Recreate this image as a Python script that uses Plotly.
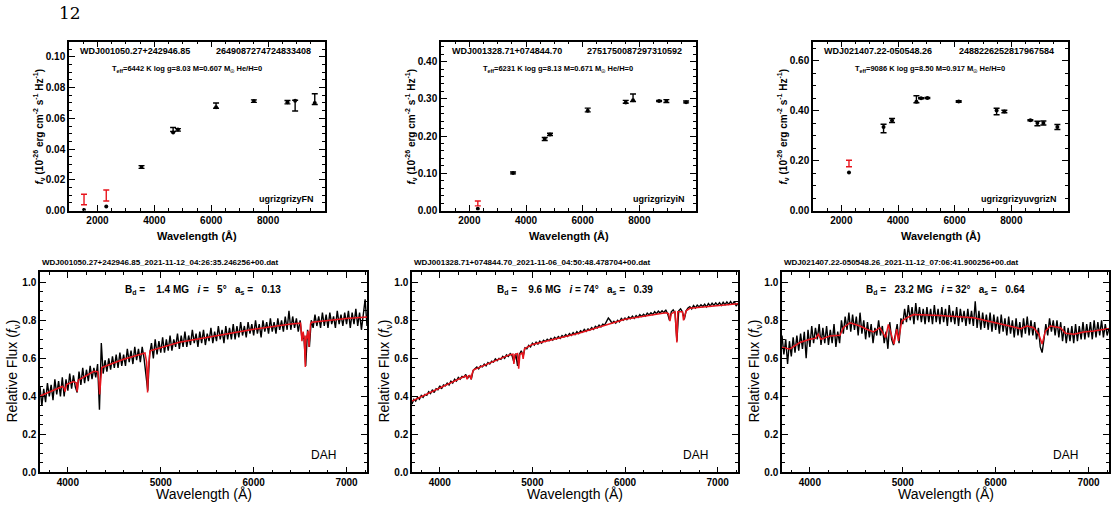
import plotly.graph_objects as go

W, H = 1116, 515
SANS = "Liberation Sans"

# ---------------- SED panels (top row) ----------------
SED1_NAME = "WDJ001050.27+242946.85"
SED1_GAIA = "2649087274724833408"
SED1_PARAMS = "T<sub>eff</sub>=6442 K log g=8.03 M=0.607 M<sub>☉</sub> He/H=0"
SED1_BANDS = "ugrizgrizyFN"
SED1_WAVE = [1528, 2310, 3550, 4660, 4830, 6170, 7500, 8680, 8950, 9640]
SED1_FLUX = [0.0072, 0.0098, 0.0283, 0.0527, 0.0525, 0.0683, 0.0712, 0.0705, 0.0683, 0.0725]
SED1_ERR = [0.0034, 0.0036, 0.0009, 0.0013, 0.0008, 0.0017, 0.0008, 0.0011, 0.0035, 0.0035]
SED1_MODEL = [0.0003, 0.0026, 0.0283, 0.0508, 0.0528, 0.0672, 0.0712, 0.0705, 0.0715, 0.0700]
SED1_NUV_COUNT = 2

SED2_NAME = "WDJ001328.71+074844.70"
SED2_GAIA = "2751750087297310592"
SED2_PARAMS = "T<sub>eff</sub>=6231 K log g=8.13 M=0.671 M<sub>☉</sub> He/H=0"
SED2_BANDS = "ugrizgrizyiN"
SED2_WAVE = [2300, 3543, 4661, 4848, 6179, 7520, 7778, 8697, 8954, 9650]
SED2_FLUX = [0.019, 0.101, 0.192, 0.2045, 0.270, 0.292, 0.303, 0.294, 0.294, 0.2917]
SED2_ERR = [0.0065, 0.0025, 0.004, 0.003, 0.005, 0.004, 0.010, 0.0015, 0.004, 0.0025]
SED2_MODEL = [0.005, 0.101, 0.193, 0.2045, 0.268, 0.290, 0.296, 0.294, 0.294, 0.291]
SED2_NUV_COUNT = 1

SED3_NAME = "WDJ021407.22-050548.26"
SED3_GAIA = "2488226252817967584"
SED3_PARAMS = "T<sub>eff</sub>=9086 K log g=8.50 M=0.917 M<sub>☉</sub> He/H=0"
SED3_BANDS = "ugrizgrizyuvgrizN"
SED3_WAVE = [2270, 3490, 3790, 4650, 4813, 5036, 6142, 7480, 7754, 8672, 8920, 9131, 9625]
SED3_FLUX = [0.188, 0.328, 0.360, 0.445, 0.449, 0.450, 0.436, 0.396, 0.396, 0.361, 0.348, 0.350, 0.334]
SED3_ERR = [0.013, 0.017, 0.008, 0.014, 0.002, 0.002, 0.003, 0.013, 0.005, 0.002, 0.009, 0.008, 0.010]
SED3_MODEL = [0.152, 0.334, 0.360, 0.435, 0.449, 0.450, 0.436, 0.400, 0.396, 0.361, 0.350, 0.350, 0.334]
SED3_NUV_COUNT = 1

SED_YMAX = [0.11, 0.454, 0.676]
SED_YDTICK = [0.02, 0.10, 0.20]
SED_YMINOR = [0.005, 0.02, 0.05]

# ---------------- Spectra (bottom row) ----------------
SPEC_WAVE = list(range(3700, 7221, 20))

SPEC1_FILE = "WDJ001050.27+242946.85_2021-11-12_04:26:35.246256+00.dat"
SPEC1_FIT = "B<sub>d</sub> =\u00a0\u00a0\u00a0 1.4 MG\u00a0\u00a0 <i>i</i> =\u00a0\u00a0 5°\u00a0\u00a0 a<sub>s</sub> =\u00a0\u00a0 0.13"
SPEC1_OBS = [
    .45, .35, .44, .37, .47, .40, .46, .38, .49, .41,
    .48, .40, .50, .40, .49, .43, .52, .44, .51, .45,
    .42, .53, .46, .55, .47, .54, .48, .56, .49, .55,
    .50, .57, .33, .68, .52, .59, .53, .60, .54, .61,
    .55, .62, .55, .63, .56, .62, .56, .65, .58, .64,
    .57, .66, .59, .65, .58, .66, .60, .51, .43, .62,
    .68, .60, .70, .62, .69, .63, .71, .63, .70, .64,
    .72, .64, .70, .66, .73, .65, .72, .66, .74, .66,
    .72, .67, .75, .68, .73, .66, .74, .68, .75, .67,
    .73, .69, .76, .68, .74, .69, .77, .70, .75, .68,
    .77, .70, .76, .70, .78, .70, .77, .71, .79, .72,
    .77, .71, .79, .73, .78, .72, .80, .73, .78, .71,
    .80, .74, .79, .73, .81, .74, .79, .73, .81, .75,
    .80, .74, .82, .75, .85, .75, .82, .76, .81, .74,
    .80, .70, .72, .56, .75, .66, .80, .76, .83, .77,
    .82, .76, .84, .77, .83, .76, .84, .78, .82, .76,
    .85, .78, .83, .77, .84, .78, .85, .76, .84, .78,
    .86, .77, .84, .75, .85, .91, .77]
SPEC1_MOD_WAVE = [3700, 3940, 3958, 3970, 3985, 4060, 4090, 4100, 4112, 4280, 4322, 4334, 4342,
                  4352, 4365, 4600, 4830, 4848, 4858, 4868, 4885, 5200, 5600, 6000, 6400, 6505,
                  6520, 6532, 6545, 6556, 6562, 6570, 6585, 6595, 6604, 6612, 6625, 7000, 7220]
SPEC1_MOD_FLUX = [.402, .452, .445, .425, .462, .478, .472, .425, .485, .532, .53, .48, .41,
                  .47, .552, .595, .628, .58, .42, .55, .64, .685, .72, .753, .78, .785,
                  .69, .74, .70, .555, .72, .70, .745, .66, .72, .78, .79, .81, .817]

SPEC2_FILE = "WDJ001328.71+074844.70_2021-11-06_04:50:48.478704+00.dat"
SPEC2_FIT = "B<sub>d</sub> =\u00a0\u00a0\u00a0 9.6 MG\u00a0\u00a0 <i>i</i> = 74°\u00a0\u00a0 a<sub>s</sub> =\u00a0\u00a0 0.39"
SPEC2_OBS = [
    .36, .385, .375, .395, .385, .405, .395, .41, .405, .425,
    .415, .435, .42, .44, .435, .455, .44, .46, .455, .47,
    .46, .48, .47, .49, .48, .50, .49, .505, .50, .515,
    .495, .51, .49, .535, .545, .555, .545, .56, .555, .57,
    .56, .578, .57, .585, .58, .597, .588, .60, .595, .61,
    .60, .618, .61, .625, .615, .58, .625, .56, .62, .64,
    .61, .655, .65, .668, .66, .68, .67, .685, .675, .69,
    .68, .695, .688, .70, .692, .705, .695, .71, .702, .715,
    .705, .72, .712, .725, .715, .73, .72, .735, .725, .74,
    .73, .745, .737, .752, .742, .755, .748, .762, .752, .768,
    .76, .775, .765, .78, .775, .795, .812, .80, .785, .795,
    .785, .80, .792, .81, .80, .812, .803, .818, .808, .822,
    .81, .825, .815, .83, .82, .832, .822, .838, .828, .84,
    .83, .845, .835, .848, .838, .85, .84, .855, .835, .80,
    .845, .855, .84, .69, .85, .86, .845, .805, .85, .865,
    .872, .86, .878, .865, .88, .87, .882, .872, .885, .87,
    .888, .875, .89, .878, .892, .88, .893, .878, .895, .882,
    .897, .884, .898, .882, .90, .875, .89]
SPEC2_MOD_WAVE = [3700, 4000, 4280, 4295, 4310, 4325, 4338, 4350, 4365, 4750, 4790, 4800, 4812,
                  4840, 4852, 4865, 4890, 4900, 4915, 4950, 5000, 5500, 6000, 6440, 6470, 6485,
                  6500, 6540, 6552, 6560, 6570, 6620, 6632, 6642, 6660, 6700, 7000, 7220]
SPEC2_MOD_FLUX = [.375, .445, .508, .49, .508, .51, .49, .52, .54, .618, .622, .57, .62,
                  .625, .545, .62, .63, .597, .65, .66, .673, .732, .805, .84, .835, .796,
                  .835, .845, .76, .683, .845, .845, .80, .82, .85, .863, .879, .887]

SPEC3_FILE = "WDJ021407.22-050548.26_2021-11-12_07:06:41.900256+00.dat"
SPEC3_FIT = "B<sub>d</sub> =\u00a0\u00a0 23.2 MG\u00a0\u00a0 <i>i</i> = 32°\u00a0\u00a0 a<sub>s</sub> =\u00a0\u00a0 0.64"
SPEC3_OBS = [
    .72, .62, .70, .57, .69, .61, .71, .63, .72, .64,
    .73, .65, .74, .60, .75, .66, .77, .68, .76, .70,
    .78, .67, .76, .68, .77, .67, .75, .68, .78, .66,
    .74, .68, .80, .73, .82, .75, .84, .74, .83, .75,
    .82, .72, .84, .73, .80, .70, .79, .71, .78, .68,
    .76, .72, .80, .72, .77, .68, .74, .65, .79, .70,
    .67, .72, .78, .68, .81, .78, .86, .79, .88, .80,
    .87, .78, .89, .80, .87, .79, .86, .78, .87, .79,
    .86, .78, .88, .79, .86, .78, .87, .79, .86, .77,
    .88, .79, .85, .78, .87, .77, .86, .79, .85, .77,
    .86, .78, .85, .77, .90, .76, .85, .75, .84, .76,
    .83, .75, .84, .74, .83, .75, .82, .73, .83, .74,
    .81, .72, .82, .73, .80, .71, .81, .72, .79, .71,
    .81, .73, .82, .72, .80, .72, .79, .70, .76, .66,
    .63, .70, .78, .72, .81, .74, .80, .72, .80, .71,
    .79, .69, .77, .68, .76, .69, .77, .68, .78, .69,
    .77, .70, .79, .70, .78, .71, .79, .70, .80, .71,
    .79, .72, .80, .71, .78, .72, .76]
SPEC3_MOD_WAVE = [3700, 3784, 3892, 4000, 4060, 4090, 4120, 4216, 4324, 4360, 4432, 4540, 4612,
                  4683, 4755, 4816, 4845, 4881, 4906, 4935, 4953, 4989, 5043, 5115, 5403, 5763,
                  5978, 6122, 6266, 6338, 6410, 6464, 6500, 6536, 6590, 6698, 6752, 6842, 6950,
                  7058, 7202, 7220]
SPEC3_MOD_FLUX = [.657, .649, .683, .70, .705, .727, .70, .718, .721, .761, .787, .77, .753,
                  .739, .761, .709, .778, .709, .675, .753, .692, .796, .813, .83, .825, .813,
                  .79, .773, .756, .77, .761, .727, .675, .744, .77, .761, .732, .727, .739,
                  .744, .756, .752]

SPEC_CLASS = "DAH"

# ---------------- layout (pixel boxes of plot areas) ----------------
TOP_BOXES = [(69, 325), (441, 696), (813, 1068)]
TOP_Y = (42, 213)
BOT_BOXES = [(40, 367), (412, 738), (782, 1109)]
BOT_Y = (275, 478)


def px(x):
    return x / W


def py(y):
    return 1 - y / H


fig = go.Figure()
annotations = []

axis_common = dict(showline=True, linecolor="black", linewidth=1.5, mirror="allticks",
                   ticks="inside", ticklen=6, tickwidth=1.2, tickcolor="black",
                   showgrid=False, zeroline=False,
                   tickfont=dict(family=SANS, size=10, color="black", weight="bold"))


def ann(text, x, y, size, xanchor="center", bold=True, angle=0, family=SANS, yanchor="middle"):
    annotations.append(dict(text=text, x=px(x), y=py(y), xref="paper", yref="paper",
                            showarrow=False, xanchor=xanchor, yanchor=yanchor, textangle=angle,
                            font=dict(family=family, size=size, color="black",
                                      weight="bold" if bold else "normal")))


seds = [
    (SED1_NAME, SED1_GAIA, SED1_PARAMS, SED1_BANDS, SED1_WAVE, SED1_FLUX, SED1_ERR, SED1_MODEL, SED1_NUV_COUNT),
    (SED2_NAME, SED2_GAIA, SED2_PARAMS, SED2_BANDS, SED2_WAVE, SED2_FLUX, SED2_ERR, SED2_MODEL, SED2_NUV_COUNT),
    (SED3_NAME, SED3_GAIA, SED3_PARAMS, SED3_BANDS, SED3_WAVE, SED3_FLUX, SED3_ERR, SED3_MODEL, SED3_NUV_COUNT),
]

for i, (name, gaia, params, bands, wave, flux, err, model, nuv) in enumerate(seds):
    k = i + 1
    xa, ya = f"x{k}", f"y{k}"
    L, R = TOP_BOXES[i]
    # GALEX observed (red) and optical observed (black) error bars
    for sl, col in ((slice(0, nuv), "#e8141c"), (slice(nuv, None), "black")):
        fig.add_trace(go.Scatter(
            x=wave[sl], y=flux[sl], mode="markers", xaxis=xa, yaxis=ya, showlegend=False,
            marker=dict(size=1, color="rgba(0,0,0,0)"),
            error_y=dict(type="data", array=err[sl], color=col, thickness=1.4, width=3)))
    fig.add_trace(go.Scatter(x=wave, y=model, mode="markers", xaxis=xa, yaxis=ya, showlegend=False,
                             marker=dict(size=4, color="black", symbol="circle")))
    fig.layout[f"xaxis{k}"] = dict(axis_common, domain=[px(L), px(R)], range=[1000, 10000],
                                   anchor=ya, tickmode="array", tickvals=[2000, 4000, 6000, 8000],
                                   minor=dict(tick0=0, dtick=500, ticklen=3, ticks="inside", tickcolor="black"))
    fig.layout[f"yaxis{k}"] = dict(axis_common, domain=[py(TOP_Y[1]), py(TOP_Y[0])],
                                   range=[0, SED_YMAX[i]], anchor=xa, tick0=0, dtick=SED_YDTICK[i],
                                   tickformat=".2f",
                                   minor=dict(tick0=0, dtick=SED_YMINOR[i], ticklen=3, ticks="inside", tickcolor="black"))
    ann(name, L + 9, 52, 9, xanchor="left")
    ann(gaia, R - 12, 52, 9, xanchor="right")
    ann(params, L + 0.46 * (R - L), 70, 7.5)
    ann(bands, R - 9, 201, 9, xanchor="right")
    ann("Wavelength (Å)", (L + R) / 2, 239, 11)
    ann("<i>f</i><sub>ν</sub> (10<sup>-26</sup> erg cm<sup>-2</sup> s<sup>-1</sup> Hz<sup>-1</sup>)",
        L - 30, 128, 10, angle=-90)

specs = [
    (SPEC1_FILE, SPEC1_FIT, SPEC1_OBS, SPEC1_MOD_WAVE, SPEC1_MOD_FLUX),
    (SPEC2_FILE, SPEC2_FIT, SPEC2_OBS, SPEC2_MOD_WAVE, SPEC2_MOD_FLUX),
    (SPEC3_FILE, SPEC3_FIT, SPEC3_OBS, SPEC3_MOD_WAVE, SPEC3_MOD_FLUX),
]

for i, (fname, fit, obs, mw, mf) in enumerate(specs):
    k = i + 4
    xa, ya = f"x{k}", f"y{k}"
    L, R = BOT_BOXES[i]
    fig.add_trace(go.Scatter(x=SPEC_WAVE, y=obs, mode="lines", xaxis=xa, yaxis=ya, showlegend=False,
                             line=dict(color="black", width=1.4)))
    fig.add_trace(go.Scatter(x=mw, y=mf, mode="lines", xaxis=xa, yaxis=ya, showlegend=False,
                             line=dict(color="#e8141c", width=1.5)))
    fig.layout[f"xaxis{k}"] = dict(axis_common, domain=[px(L), px(R)], range=[3700, 7220],
                                   anchor=ya, tickmode="array", tickvals=[4000, 5000, 6000, 7000],
                                   minor=dict(tick0=0, dtick=200, ticklen=3, ticks="inside", tickcolor="black"))
    fig.layout[f"yaxis{k}"] = dict(axis_common, domain=[py(BOT_Y[1]), py(BOT_Y[0])],
                                   range=[0, 1.055], anchor=xa, tick0=0, dtick=0.2, tickformat=".1f",
                                   minor=dict(tick0=0, dtick=0.05, ticklen=3, ticks="inside", tickcolor="black"))
    ann(fname, L, 266, 8, xanchor="left")
    ann(fit, L + 163, 293, 10)
    ann(SPEC_CLASS, L + 283, 460, 12, bold=False)
    ann("Wavelength (Å)", (L + R) / 2, 500, 14, bold=False)
    ann("Relative Flux (<i>f</i><sub>ν</sub>)", L - 27, 376, 14, bold=False, angle=-90)

ann("12", 70, 13, 17, bold=False, family="DejaVu Serif")

fig.update_layout(width=W, height=H, margin=dict(l=0, r=0, t=0, b=0),
                  paper_bgcolor="white", plot_bgcolor="white", annotations=annotations)

fig.write_html("out.html")
